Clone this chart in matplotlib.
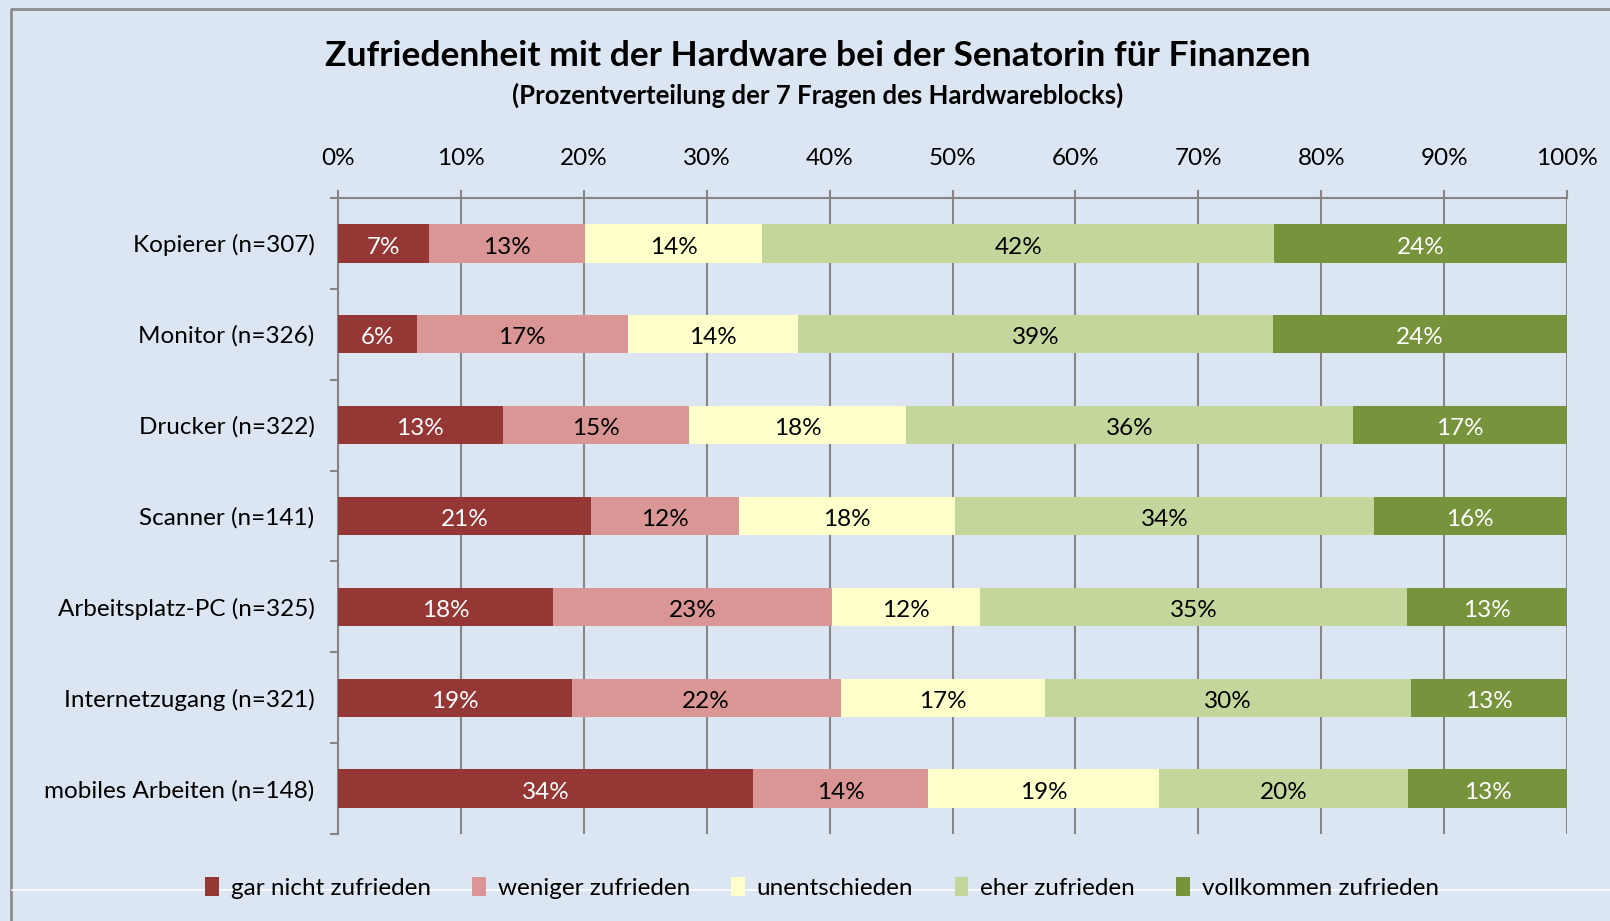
import numpy as np
import matplotlib
matplotlib.use("Agg")
import matplotlib.pyplot as plt
from matplotlib.lines import Line2D
from matplotlib.ticker import FixedLocator, PercentFormatter

# ---- DATEN ----
kategorien = ["Kopierer (n=307)", "Monitor (n=326)", "Drucker (n=322)", "Scanner (n=141)",
              "Arbeitsplatz-PC (n=325)", "Internetzugang (n=321)", "mobiles Arbeiten (n=148)"]
stufen = ["gar nicht zufrieden", "weniger zufrieden", "unentschieden",
          "eher zufrieden", "vollkommen zufrieden"]
gar_nicht = [7.4, 6.4, 13.4, 20.6, 17.5, 19.0, 33.8]
weniger = [12.7, 17.2, 15.2, 12.0, 22.7, 21.9, 14.2]
unentschieden = [14.4, 13.8, 17.6, 17.6, 12.0, 16.6, 18.8]
eher = [41.7, 38.7, 36.4, 34.1, 34.8, 29.8, 20.3]
vollkommen = [23.8, 23.9, 17.4, 15.6, 12.9, 12.7, 12.9]
x_ticks = [0, 10, 20, 30, 40, 50, 60, 70, 80, 90, 100]

farben = ["#953735", "#d99694", "#ffffcc", "#c3d69b", "#77933c"]
textfarben = ["white", "black", "black", "black", "white"]
bg = "#dce6f2"
grau = "#868686"

plt.rcParams["font.family"] = ["Lato", "DejaVu Sans"]

fig = plt.figure(figsize=(16.1, 9.21), dpi=100, facecolor=bg)
ax = fig.add_axes([338 / 1610, 1 - 834 / 921, (1567 - 338) / 1610, (834 - 198) / 921])
ax.set_facecolor(bg)

serien = [gar_nicht, weniger, unentschieden, eher, vollkommen]
y = np.arange(len(kategorien))
links = np.zeros(len(kategorien))
for werte, farbe, tf, name in zip(serien, farben, textfarben, stufen):
    werte = np.array(werte)
    bars = ax.barh(y, werte, left=links, height=0.42, color=farbe, label=name, zorder=3)
    for b, v in zip(bars, werte):
        ax.text(b.get_x() + b.get_width() / 2, b.get_y() + b.get_height() / 2 + 0.04,
                f"{v:.0f}%", ha="center", va="center", color=tf, fontsize=17.5, zorder=4)
    links += werte

ax.set_xlim(0, 100)
ax.set_ylim(len(kategorien) - 0.5, -0.5)
ax.xaxis.tick_top()
ax.set_xticks(x_ticks)
ax.xaxis.set_major_formatter(PercentFormatter(decimals=0))
ax.tick_params(axis="x", which="major", length=6, width=1.5, color=grau, pad=15,
               labelsize=17.5)
ax.grid(axis="x", color=grau, linewidth=1.5, zorder=0)

ax.set_yticks(y)
ax.set_yticklabels(kategorien)
ax.yaxis.set_minor_locator(FixedLocator(np.arange(-0.5, len(kategorien), 1)))
ax.tick_params(axis="y", which="major", length=0, pad=17, labelsize=17.5)
ax.tick_params(axis="y", which="minor", length=6, width=1.5, color=grau)

for s in ["right", "bottom"]:
    ax.spines[s].set_visible(False)
for s in ["left", "top"]:
    ax.spines[s].set_color(grau)
    ax.spines[s].set_linewidth(1.5)

# ---- TITEL ----
fig.text(818 / 1610, 1 - 56 / 921, "Zufriedenheit mit der Hardware bei der Senatorin für Finanzen",
         ha="center", va="center", fontsize=25.5, fontweight="bold")
fig.text(818 / 1610, 1 - 95 / 921, "(Prozentverteilung der 7 Fragen des Hardwareblocks)",
         ha="center", va="center", fontsize=18.5, fontweight="bold")

# ---- LEGENDE ----
fig.legend(loc="center", bbox_to_anchor=(822 / 1610, 1 - 888 / 921), ncol=5, frameon=False,
           fontsize=17.5, handlelength=0.55, handleheight=0.85, handletextpad=0.5,
           columnspacing=1.7)

# ---- RAHMEN ----
fig.add_artist(Line2D([11 / 1610, 11 / 1610, 1], [0, 1 - 9 / 921, 1 - 9 / 921],
                      transform=fig.transFigure, color="#8c8c8c", linewidth=2))
fig.add_artist(Line2D([12 / 1610, 1], [1 - 890 / 921, 1 - 890 / 921],
                      transform=fig.transFigure, color="white", linewidth=1.2))

fig.savefig("out.png", dpi=100, facecolor=bg)
